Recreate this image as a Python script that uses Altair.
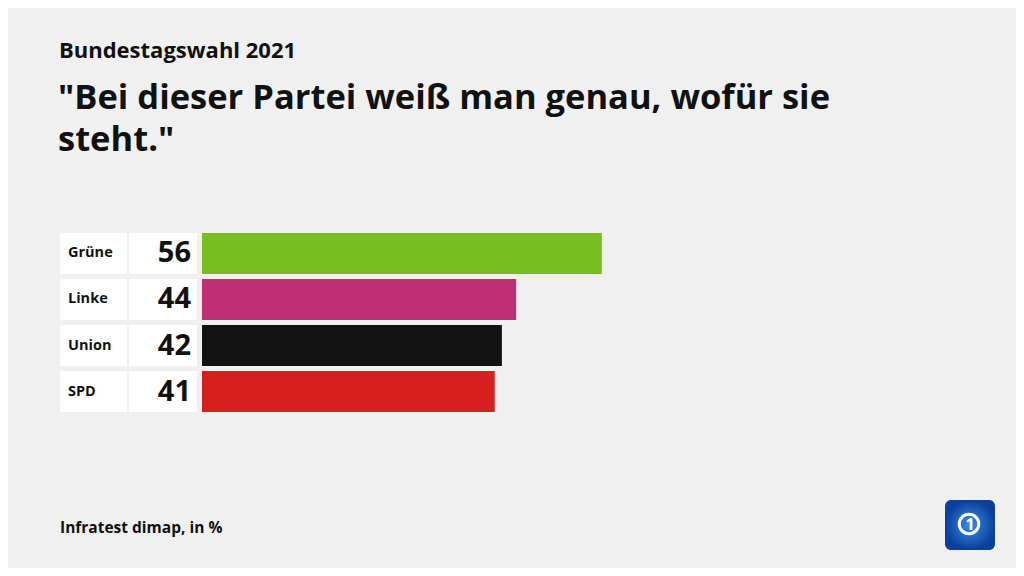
import altair as alt
import pandas as pd

parties = ["Grüne", "Linke", "Union", "SPD"]
values = [56, 44, 42, 41]
colors = ["#78be1e", "#be3075", "#121212", "#d7201e"]
title_lines = ['"Bei dieser Partei weiß man genau, wofür sie', 'steht."']
kicker = "Bundestagswahl 2021"
source = "Infratest dimap, in %"

FONT = "Open Sans"
df = pd.DataFrame({"party": parties, "value": values, "color": colors})

W, H = 1008, 560
yscale = alt.Scale(domain=parties, range=[225, 404], paddingInner=0.11, paddingOuter=0)
y = alt.Y("party:N", sort=parties, axis=None, scale=yscale)
x = alt.X("value:Q", axis=None, scale=alt.Scale(domain=[0, 100], range=[194, 908]))

base = alt.Chart(df)

label_box = base.mark_rect(color="white").encode(y=y, x=alt.value(52), x2=alt.value(119))
value_box = base.mark_rect(color="white").encode(y=y, x=alt.value(121), x2=alt.value(189))
bars = base.mark_bar().encode(y=y, x=x, x2=alt.X2(datum=0),
                              color=alt.Color("color:N", scale=None))
labels = base.mark_text(align="left", baseline="middle", font=FONT, fontWeight="bold",
                        fontSize=14.5, color="#111").encode(
    y=alt.Y("party:N", sort=parties, axis=None, scale=yscale, bandPosition=0.5),
    x=alt.value(60), text="party:N")
vals = base.mark_text(align="right", baseline="middle", font=FONT, fontWeight="bold",
                      fontSize=29, color="#111").encode(
    y=alt.Y("party:N", sort=parties, axis=None, scale=yscale, bandPosition=0.5),
    x=alt.value(183), text="value:Q")

def txt(t, size, xx, yy, **kw):
    return alt.Chart(pd.DataFrame({"a": [1]})).mark_text(
        align="left", baseline="alphabetic", font=FONT, fontWeight="bold", fontSize=size, color="#111", **kw
    ).encode(text=alt.value(t), x=alt.value(xx), y=alt.value(yy))

kick = txt(kicker, 22, 51, 50)
title = txt(title_lines, 34.5, 50, 101, lineHeight=42)
src = txt(source, 15.5, 52, 525)

logo_bg = alt.Chart(pd.DataFrame({"a": [1]})).mark_rect(
    cornerRadius=6,
    color=alt.Gradient(gradient="radial", stops=[alt.GradientStop(color="#3a8ee6", offset=0),
                                                 alt.GradientStop(color="#0a3f9c", offset=1)])
).encode(x=alt.value(937), x2=alt.value(987), y=alt.value(492), y2=alt.value(542))
logo_ring = alt.Chart(pd.DataFrame({"a": [1]})).mark_point(
    shape="circle", size=380, stroke="white", strokeWidth=3, filled=False, opacity=1
).encode(x=alt.value(961), y=alt.value(516))
logo_one = alt.Chart(pd.DataFrame({"t": ["1"]})).mark_text(
    font=FONT, fontWeight="bold", fontSize=16, color="white", align="center", baseline="middle"
).encode(text="t:N", x=alt.value(962), y=alt.value(517))

chart = alt.layer(label_box, value_box, bars, labels, vals, kick, title, src,
                  logo_bg, logo_ring, logo_one).properties(
    width=W, height=H, padding=0, autosize=alt.AutoSizeParams(type="none"),
    background="#f0f0f0"
).configure_view(stroke=None)

chart.save("out.html", embed_options={"renderer": "svg", "actions": False})
